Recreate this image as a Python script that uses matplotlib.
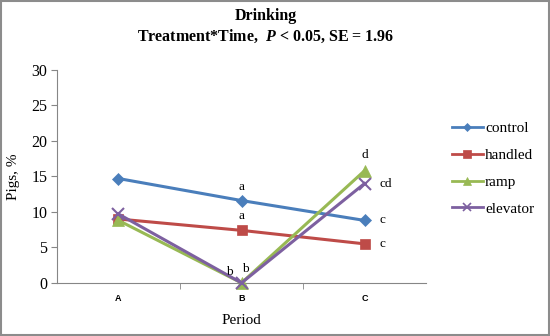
import matplotlib.pyplot as plt
from matplotlib.lines import Line2D

periods = ['A', 'B', 'C']
control = [14.7, 11.6, 8.8]
handled = [9.0, 7.4, 5.5]
ramp = [8.8, 0.0, 15.8]
elevator = [9.7, 0.0, 14.0]

series = [
    ('control', control, '#4A7EBB', 'D', 6),
    ('handled', handled, '#BE4B48', 's', 7),
    ('ramp', ramp, '#98B954', '^', 8),
    ('elevator', elevator, '#7D60A0', 'x', 8),
]

# letter annotations: (series index, period index, text, dx px, dy px)
letters = [
    (0, 1, 'a', 0, 10),
    (1, 1, 'a', 0, 10),
    (3, 1, 'b', -9, 8),
    (2, 1, 'b', 3, 10),
    (0, 2, 'c', 13, 0),
    (1, 2, 'c', 13, 0),
    (2, 2, 'd', 0, 11),
    (3, 2, 'cd', 15, 0),
]

serif = 'Liberation Serif'
sans = 'Liberation Sans'
plt.rcParams['font.family'] = 'serif'
plt.rcParams['font.serif'] = [serif, 'DejaVu Serif']
plt.rcParams['mathtext.fontset'] = 'custom'
plt.rcParams['mathtext.it'] = 'Liberation Serif:italic:bold'
plt.rcParams['mathtext.rm'] = 'Liberation Serif:bold'

fig = plt.figure(figsize=(5.5, 3.36), dpi=100)
ax = fig.add_axes([0.1036, 0.158, 0.671, 0.634])

x = list(range(len(periods)))
for name, vals, col, mk, ms in series:
    ax.plot(x, vals, color=col, lw=2.2, marker=mk, ms=ms, mew=1.5 if mk == 'x' else 0.5,
            mec=col, label=name, clip_on=False, zorder=3)

for si, pi, txt, dx, dy in letters:
    ax.annotate(txt, (x[pi], series[si][1][pi]), xytext=(dx, dy), textcoords='offset points',
                ha='center', va='center', fontsize=9.5)

ax.set_xlim(-0.5, 2.5)
ax.set_ylim(0, 30)
ax.set_yticks(range(0, 31, 5))
ax.set_yticklabels([str(v) for v in range(0, 31, 5)], fontsize=11.5)
ax.set_xticks(x)
ax.set_xticklabels(periods, family=sans, fontsize=6.5, fontweight='bold')
ax.set_xticks([0.5, 1.5], minor=True)
ax.tick_params(axis='x', which='major', length=0, pad=8)
ax.tick_params(axis='x', which='minor', length=4, color='#868686', direction='out')
ax.tick_params(axis='y', length=4, color='#868686', direction='out', pad=3)
for s in ['top', 'right']:
    ax.spines[s].set_visible(False)
for s in ['left', 'bottom']:
    ax.spines[s].set_color('#868686')
    ax.spines[s].set_linewidth(0.8)

ax.set_ylabel('Pigs, %', fontsize=11, labelpad=8)
ax.set_xlabel('Period', fontsize=11, labelpad=8)

fig.text(0.483, 0.952, 'Drinking', ha='center', va='center',
         fontsize=11.5, fontweight='bold')
fig.text(0.483, 0.893, r'Treatment*Time,  $\mathit{P}$ < 0.05, SE = 1.96', ha='center',
         va='center', fontsize=11.5, fontweight='bold')

handles = [Line2D([0], [0], color=col, lw=2.0, marker=mk, ms=ms * 0.75,
                  mew=1.2 if mk == 'x' else 0.5, mec=col) for _, _, col, mk, ms in series]
leg = fig.legend(handles, [s[0] for s in series], loc='center left', bbox_to_anchor=(0.797, 0.498),
                 frameon=False, fontsize=11, handlelength=2.0,
                 labelspacing=0.85, handletextpad=0.15)
for t in leg.get_texts():
    t.set_fontfamily(serif)

# outer border
fig.patches.append(plt.Rectangle((0.002, 0.003), 0.996, 0.994, transform=fig.transFigure,
                                 fill=False, edgecolor='#8c8c8c', lw=1.5))

fig.savefig('out.png', dpi=100)
